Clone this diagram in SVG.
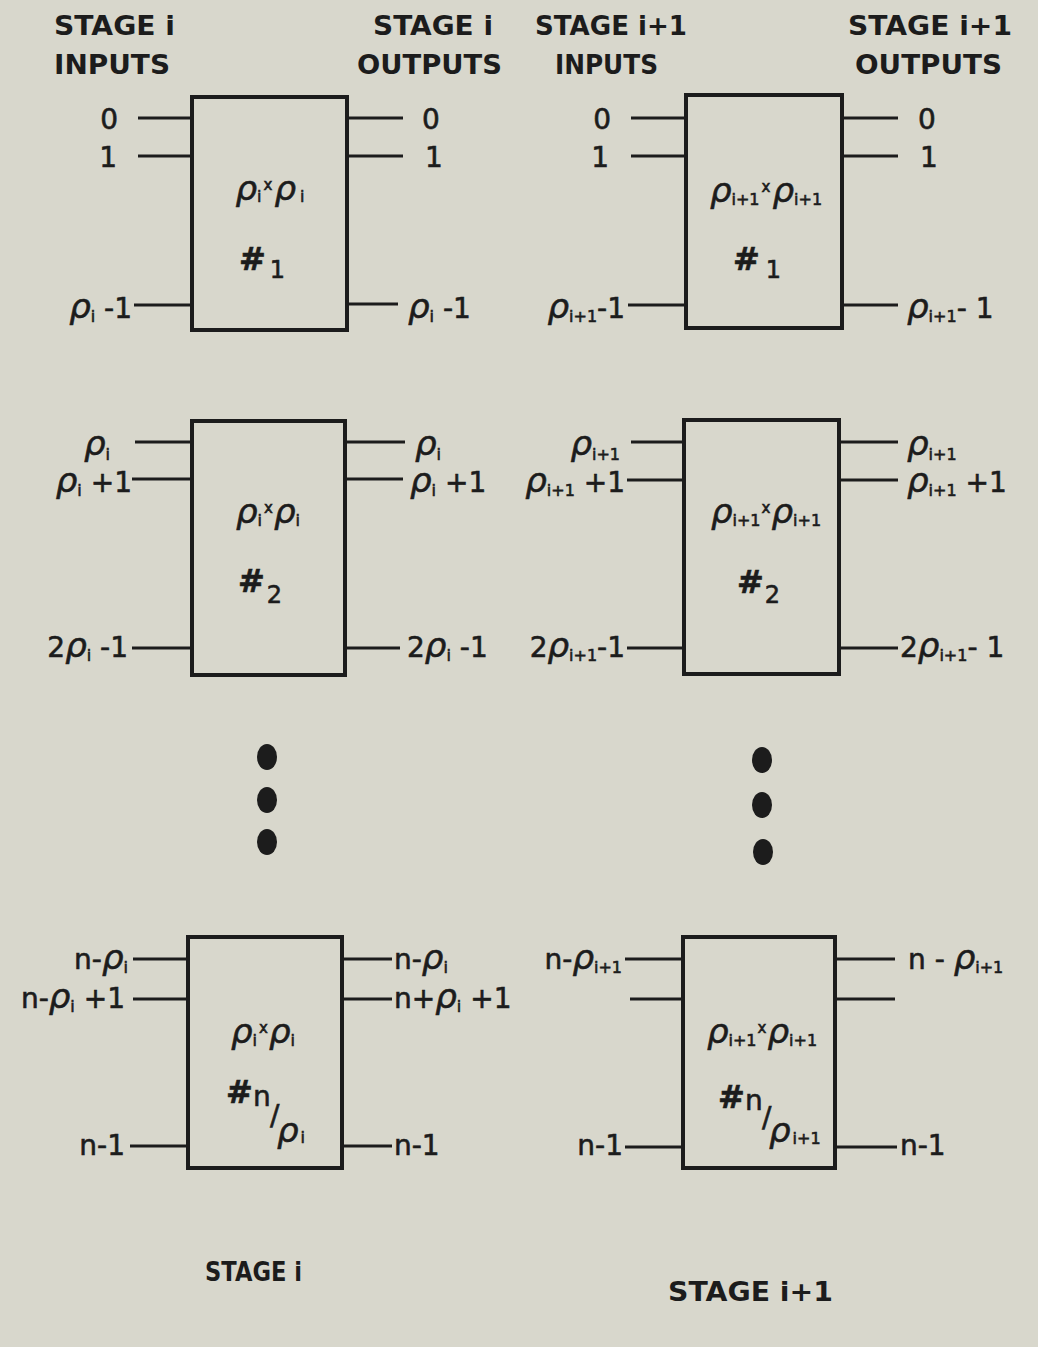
<svg xmlns="http://www.w3.org/2000/svg" width="1038" height="1347" viewBox="0 0 1038 1347">
<style>
.box{fill:none;stroke:#1c1c1c;stroke-width:4}
.pin{stroke:#1c1c1c;stroke-width:3}
.dot{fill:#1c1c1c}
.h{font-family:"DejaVu Sans","Liberation Sans",sans-serif;font-weight:bold;font-size:27px;fill:#1c1c1c}
.l{font-family:"DejaVu Sans","Liberation Sans",sans-serif;font-size:28px;fill:#1c1c1c;stroke:#1c1c1c;stroke-width:0.6}
.r{font-style:italic;font-size:34px}
.s{font-size:16px}
.x{font-size:15px}
.hs{font-weight:bold;font-size:32px}
.e{text-anchor:end}
</style>
<rect width="1038" height="1347" fill="#d8d7cc"/>

<g id="headers">
<text class="h" x="54" y="35" textLength="121" lengthAdjust="spacingAndGlyphs">STAGE i</text>
<text class="h" x="54" y="74" textLength="116" lengthAdjust="spacingAndGlyphs">INPUTS</text>
<text class="h" x="373" y="35" textLength="120" lengthAdjust="spacingAndGlyphs">STAGE i</text>
<text class="h" x="357" y="74" textLength="145" lengthAdjust="spacingAndGlyphs">OUTPUTS</text>
<text class="h" x="535" y="35" textLength="152" lengthAdjust="spacingAndGlyphs">STAGE i+1</text>
<text class="h" x="555" y="74" textLength="103" lengthAdjust="spacingAndGlyphs">INPUTS</text>
<text class="h" x="848" y="35" textLength="164" lengthAdjust="spacingAndGlyphs">STAGE i+1</text>
<text class="h" x="855" y="74" textLength="147" lengthAdjust="spacingAndGlyphs">OUTPUTS</text>
<text class="h" x="205" y="1281" font-size="23" textLength="97" lengthAdjust="spacingAndGlyphs">STAGE i</text>
<text class="h" x="668" y="1301" textLength="165" lengthAdjust="spacingAndGlyphs">STAGE i+1</text>
</g>

<g id="connectors">
<line class="pin" x1="138" y1="118" x2="192" y2="118"/>
<line class="pin" x1="138" y1="156" x2="192" y2="156"/>
<line class="pin" x1="134" y1="305" x2="192" y2="305"/>
<line class="pin" x1="347" y1="118" x2="403" y2="118"/>
<line class="pin" x1="347" y1="156" x2="403" y2="156"/>
<line class="pin" x1="347" y1="304" x2="398" y2="304"/>

<line class="pin" x1="631" y1="118" x2="686" y2="118"/>
<line class="pin" x1="631" y1="156" x2="686" y2="156"/>
<line class="pin" x1="628" y1="305" x2="686" y2="305"/>
<line class="pin" x1="842" y1="118" x2="898" y2="118"/>
<line class="pin" x1="842" y1="156" x2="898" y2="156"/>
<line class="pin" x1="842" y1="305" x2="898" y2="305"/>

<line class="pin" x1="135" y1="442" x2="192" y2="442"/>
<line class="pin" x1="132" y1="479" x2="192" y2="479"/>
<line class="pin" x1="132" y1="648" x2="192" y2="648"/>
<line class="pin" x1="345" y1="442" x2="405" y2="442"/>
<line class="pin" x1="345" y1="479" x2="403" y2="479"/>
<line class="pin" x1="345" y1="648" x2="400" y2="648"/>

<line class="pin" x1="631" y1="442" x2="684" y2="442"/>
<line class="pin" x1="627" y1="480" x2="684" y2="480"/>
<line class="pin" x1="627" y1="648" x2="684" y2="648"/>
<line class="pin" x1="839" y1="442" x2="898" y2="442"/>
<line class="pin" x1="839" y1="480" x2="898" y2="480"/>
<line class="pin" x1="839" y1="648" x2="898" y2="648"/>

<line class="pin" x1="133" y1="959" x2="188" y2="959"/>
<line class="pin" x1="133" y1="999" x2="188" y2="999"/>
<line class="pin" x1="130" y1="1146" x2="188" y2="1146"/>
<line class="pin" x1="342" y1="959" x2="392" y2="959"/>
<line class="pin" x1="342" y1="999" x2="392" y2="999"/>
<line class="pin" x1="342" y1="1146" x2="392" y2="1146"/>

<line class="pin" x1="625" y1="959" x2="683" y2="959"/>
<line class="pin" x1="630" y1="999" x2="683" y2="999"/>
<line class="pin" x1="625" y1="1147" x2="683" y2="1147"/>
<line class="pin" x1="835" y1="959" x2="895" y2="959"/>
<line class="pin" x1="835" y1="999" x2="895" y2="999"/>
<line class="pin" x1="835" y1="1147" x2="897" y2="1147"/>
</g>

<g id="box-i-1">
<rect class="box" x="192" y="97" width="155" height="233"/>
<text class="l" x="270" y="200" text-anchor="middle"><tspan class="r">ρ</tspan><tspan class="s" dy="2">i</tspan><tspan class="x" dx="2" dy="-12">x</tspan><tspan class="r" dx="2" dy="10">ρ</tspan><tspan class="s" dx="4" dy="2">i</tspan></text>
<text class="l" x="239" y="270"><tspan class="hs">#</tspan><tspan font-size="24" dx="4" dy="8">1</tspan></text>
<text class="l e" x="118" y="129">0</text>
<text class="l e" x="117" y="167">1</text>
<text class="l e" x="132" y="318"><tspan class="r">ρ</tspan><tspan class="s" dy="4">i</tspan><tspan dy="-4"> -1</tspan></text>
<text class="l" x="422" y="129">0</text>
<text class="l" x="425" y="167">1</text>
<text class="l" x="408" y="318"><tspan class="r">ρ</tspan><tspan class="s" dy="4">i</tspan><tspan dy="-4"> -1</tspan></text>
</g>

<g id="box-i1-1">
<rect class="box" x="686" y="95" width="156" height="233"/>
<text class="l" x="766" y="202" text-anchor="middle"><tspan class="r">ρ</tspan><tspan class="s" dy="3">i+1</tspan><tspan class="x" dx="2" dy="-13">x</tspan><tspan class="r" dx="2" dy="10">ρ</tspan><tspan class="s" dy="3">i+1</tspan></text>
<text class="l" x="733" y="270"><tspan class="hs">#</tspan><tspan font-size="24" dx="6" dy="8">1</tspan></text>
<text class="l e" x="611" y="129">0</text>
<text class="l e" x="609" y="167">1</text>
<text class="l e" x="625" y="318"><tspan class="r">ρ</tspan><tspan class="s" dy="4">i+1</tspan><tspan dy="-4">-1</tspan></text>
<text class="l" x="918" y="129">0</text>
<text class="l" x="920" y="167">1</text>
<text class="l" x="907" y="318"><tspan class="r">ρ</tspan><tspan class="s" dy="4">i+1</tspan><tspan dy="-4">- 1</tspan></text>
</g>

<g id="box-i-2">
<rect class="box" x="192" y="421" width="153" height="254"/>
<text class="l" x="268" y="523" text-anchor="middle"><tspan class="r">ρ</tspan><tspan class="s" dy="3">i</tspan><tspan class="x" dx="2" dy="-13">x</tspan><tspan class="r" dx="1" dy="10">ρ</tspan><tspan class="s" dy="3">i</tspan></text>
<text class="l" x="238" y="592"><tspan class="hs">#</tspan><tspan font-size="24" dx="2" dy="11">2</tspan></text>
<text class="l e" x="110" y="455"><tspan class="r">ρ</tspan><tspan class="s" dy="5">i</tspan></text>
<text class="l e" x="132" y="492"><tspan class="r">ρ</tspan><tspan class="s" dy="4">i</tspan><tspan dy="-4"> +1</tspan></text>
<text class="l e" x="128" y="657">2<tspan class="r">ρ</tspan><tspan class="s" dy="4">i</tspan><tspan dy="-4"> -1</tspan></text>
<text class="l" x="415" y="455"><tspan class="r">ρ</tspan><tspan class="s" dy="5">i</tspan></text>
<text class="l" x="410" y="492"><tspan class="r">ρ</tspan><tspan class="s" dy="4">i</tspan><tspan dy="-4"> +1</tspan></text>
<text class="l" x="407" y="657">2<tspan class="r">ρ</tspan><tspan class="s" dy="4">i</tspan><tspan dy="-4"> -1</tspan></text>
</g>

<g id="box-i1-2">
<rect class="box" x="684" y="420" width="155" height="254"/>
<text class="l" x="766" y="523" text-anchor="middle"><tspan class="r">ρ</tspan><tspan class="s" dy="3">i+1</tspan><tspan class="x" dx="1" dy="-13">x</tspan><tspan class="r" dx="1" dy="10">ρ</tspan><tspan class="s" dy="3">i+1</tspan></text>
<text class="l" x="737" y="593"><tspan class="hs">#</tspan><tspan font-size="24" dx="1" dy="10">2</tspan></text>
<text class="l e" x="620" y="455"><tspan class="r">ρ</tspan><tspan class="s" dy="5">i+1</tspan></text>
<text class="l e" x="625" y="492"><tspan class="r">ρ</tspan><tspan class="s" dy="4">i+1</tspan><tspan dy="-4"> +1</tspan></text>
<text class="l e" x="625" y="657">2<tspan class="r">ρ</tspan><tspan class="s" dy="4">i+1</tspan><tspan dy="-4">-1</tspan></text>
<text class="l" x="907" y="455"><tspan class="r">ρ</tspan><tspan class="s" dy="5">i+1</tspan></text>
<text class="l" x="907" y="492"><tspan class="r">ρ</tspan><tspan class="s" dy="4">i+1</tspan><tspan dy="-4"> +1</tspan></text>
<text class="l" x="900" y="657">2<tspan class="r">ρ</tspan><tspan class="s" dy="4">i+1</tspan><tspan dy="-4">- 1</tspan></text>
</g>

<g id="ellipsis-i">
<ellipse class="dot" cx="267" cy="757" rx="10" ry="13"/>
<ellipse class="dot" cx="267" cy="800" rx="10" ry="13"/>
<ellipse class="dot" cx="267" cy="842" rx="10" ry="13"/>
</g>
<g id="ellipsis-i1">
<ellipse class="dot" cx="762" cy="760" rx="10" ry="13"/>
<ellipse class="dot" cx="762" cy="805" rx="10" ry="13"/>
<ellipse class="dot" cx="763" cy="852" rx="10" ry="13"/>
</g>

<g id="box-i-n">
<rect class="box" x="188" y="937" width="154" height="231"/>
<text class="l" x="263" y="1043" text-anchor="middle"><tspan class="r">ρ</tspan><tspan class="s" dy="3">i</tspan><tspan class="x" dx="2" dy="-13">x</tspan><tspan class="r" dx="1" dy="10">ρ</tspan><tspan class="s" dy="3">i</tspan></text>
<text class="l hs" x="226" y="1103">#</text>
<text class="l" x="253" y="1106" font-size="22">n</text>
<text class="l" x="270" y="1125" font-size="24">/</text>
<text class="l" x="277" y="1142"><tspan class="r">ρ</tspan><tspan class="s" dx="2" dy="1">i</tspan></text>
<text class="l e" x="128" y="969">n-<tspan class="r">ρ</tspan><tspan class="s" dy="4">i</tspan></text>
<text class="l e" x="125" y="1008">n-<tspan class="r">ρ</tspan><tspan class="s" dy="4">i</tspan><tspan dy="-4"> +1</tspan></text>
<text class="l e" x="125" y="1155">n-1</text>
<text class="l" x="394" y="969">n-<tspan class="r">ρ</tspan><tspan class="s" dy="4">i</tspan></text>
<text class="l" x="394" y="1008">n+<tspan class="r">ρ</tspan><tspan class="s" dy="4">i</tspan><tspan dy="-4"> +1</tspan></text>
<text class="l" x="394" y="1155">n-1</text>
</g>

<g id="box-i1-n">
<rect class="box" x="683" y="937" width="152" height="231"/>
<text class="l" x="762" y="1043" text-anchor="middle"><tspan class="r">ρ</tspan><tspan class="s" dy="3">i+1</tspan><tspan class="x" dx="1" dy="-13">x</tspan><tspan class="r" dx="1" dy="10">ρ</tspan><tspan class="s" dy="3">i+1</tspan></text>
<text class="l hs" x="718" y="1108">#</text>
<text class="l" x="745" y="1110" font-size="22">n</text>
<text class="l" x="762" y="1127" font-size="24">/</text>
<text class="l" x="769" y="1142"><tspan class="r">ρ</tspan><tspan class="s" dx="2" dy="2">i+1</tspan></text>
<text class="l e" x="622" y="969">n-<tspan class="r">ρ</tspan><tspan class="s" dy="4">i+1</tspan></text>
<text class="l e" x="623" y="1155">n-1</text>
<text class="l" x="908" y="969">n - <tspan class="r">ρ</tspan><tspan class="s" dy="4">i+1</tspan></text>
<text class="l" x="900" y="1155">n-1</text>
</g>
</svg>
